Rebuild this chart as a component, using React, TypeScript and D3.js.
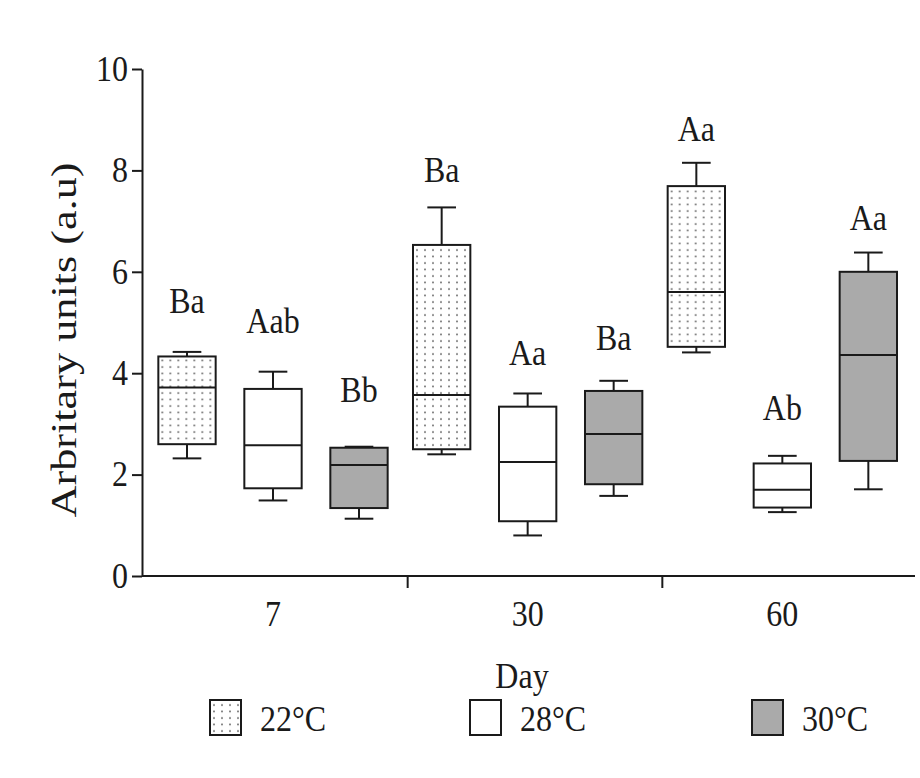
import React, { useEffect, useRef } from 'react';
import * as d3 from 'd3';

const days = ['7', '30', '60'];
const temps = ['22°C', '28°C', '30°C'];
const yTicks = [0, 2, 4, 6, 8, 10];

// one value per box, day by day, temperatures in legend order
const whiskerLow = [2.32, 1.49, 1.13, 2.4, 0.8, 1.58, 4.41, 1.26, 1.71];
const q1 = [2.6, 1.73, 1.34, 2.5, 1.08, 1.81, 4.52, 1.35, 2.27];
const medians = [3.72, 2.58, 2.19, 3.57, 2.25, 2.8, 5.6, 1.7, 4.36];
const q3 = [4.33, 3.69, 2.53, 6.53, 3.34, 3.65, 7.69, 2.22, 6.0];
const whiskerHigh = [4.42, 4.03, 2.55, 7.27, 3.6, 3.85, 8.15, 2.37, 6.38];
const letters = ['Ba', 'Aab', 'Bb', 'Ba', 'Aa', 'Ba', 'Aa', 'Ab', 'Aa'];
const letterAt = [5.19, 4.79, 3.43, 7.77, 4.16, 4.46, 8.58, 3.08, 6.82];

const App: React.FC = () => {
  const svgRef = useRef<SVGSVGElement | null>(null);

  useEffect(() => {
    if (!svgRef.current) return;

    const width = 920;
    const height = 778;
    const font = '"Liberation Serif", "Times New Roman", serif';
    const ink = '#1a1a1a';
    const fontSize = 32;
    const stretch = 'scale(1,1.1)'; // the scanned figure is a bit taller than wide

    const svg = d3.select(svgRef.current)
      .attr('width', width)
      .attr('height', height)
      .attr('viewBox', `0 0 ${width} ${height}`);

    svg.selectAll('*').remove();

    // scales
    const y = d3.scaleLinear().domain([0, 10]).range([576, 69]);
    const x = d3.scaleBand().domain(days).range([153, 917]);
    const inner = d3.scaleBand()
      .domain(temps)
      .range([-9, 249])
      .paddingInner(1 / 3)
      .paddingOuter(1 / 6);
    const bw = inner.bandwidth();

    // text placed at (tx, ty) baseline, stretched vertically
    const label = (sel: d3.Selection<any, any, any, any>, tx: any, ty: any, anchor = 'middle') =>
      sel.append('g')
        .attr('transform', (d: any) => `translate(${typeof tx === 'function' ? tx(d) : tx},${typeof ty === 'function' ? ty(d) : ty}) ${stretch}`)
        .append('text')
        .attr('text-anchor', anchor)
        .attr('font-family', font)
        .attr('font-size', fontSize)
        .attr('fill', ink);

    // dotted fill for 22°C
    const pat = svg.append('defs').append('pattern')
      .attr('id', 'dots')
      .attr('patternUnits', 'userSpaceOnUse')
      .attr('width', 8)
      .attr('height', 6.5);
    pat.append('rect').attr('width', 8).attr('height', 6.5).attr('fill', '#fff');
    pat.append('circle').attr('cx', 4).attr('cy', 3).attr('r', 0.9).attr('fill', '#555');

    const fills: Record<string, string> = {
      '22°C': 'url(#dots)',
      '28°C': '#ffffff',
      '30°C': '#aaaaaa',
    };

    // y axis
    const yAxis = svg.append('g')
      .attr('transform', 'translate(142,0)')
      .call(d3.axisLeft(y).tickValues(yTicks).tickSize(10).tickSizeOuter(0).tickPadding(4).tickFormat(d3.format('d')));
    yAxis.selectAll('path, line').attr('stroke', ink).attr('stroke-width', 2);
    yAxis.selectAll('text')
      .attr('fill', ink)
      .attr('font-family', font)
      .attr('font-size', fontSize)
      .attr('transform', stretch);

    svg.append('text')
      .attr('transform', 'translate(76,340) rotate(-90) scale(1,1.1)')
      .attr('text-anchor', 'middle')
      .attr('font-family', font)
      .attr('font-size', 32)
      .attr('fill', ink)
      .attr('textLength', 355)
      .attr('lengthAdjust', 'spacingAndGlyphs')
      .text('Arbritary units (a.u)');

    // x axis: line, ticks between groups, labels under the middle box
    svg.append('line')
      .attr('x1', 142).attr('x2', 915)
      .attr('y1', y(0)).attr('y2', y(0))
      .attr('stroke', ink).attr('stroke-width', 2);

    svg.selectAll('line.xtick')
      .data(days.slice(1))
      .join('line')
      .attr('class', 'xtick')
      .attr('x1', d => x(d)!).attr('x2', d => x(d)!)
      .attr('y1', y(0)).attr('y2', y(0) + 12)
      .attr('stroke', ink).attr('stroke-width', 2);

    const xl = svg.selectAll('g.xlab')
      .data(days)
      .join('g')
      .attr('class', 'xlab');
    label(xl, (d: string) => x(d)! + inner('28°C')! + bw / 2, 626).text(d => d);

    label(svg, 522, 688).text('Day');

    // boxes
    const boxes = d3.cross(days, temps).map(([day, temp], i) => ({
      day, temp,
      lo: whiskerLow[i], q1: q1[i], med: medians[i], q3: q3[i], hi: whiskerHigh[i],
      letter: letters[i], letterAt: letterAt[i],
    }));

    const g = svg.selectAll('g.box')
      .data(boxes)
      .join('g')
      .attr('class', 'box')
      .attr('transform', d => `translate(${x(d.day)! + inner(d.temp)!},0)`);

    // whiskers
    g.append('line')
      .attr('x1', bw / 2).attr('x2', bw / 2)
      .attr('y1', d => y(d.hi)).attr('y2', d => y(d.lo))
      .attr('stroke', ink).attr('stroke-width', 2);
    g.append('line')
      .attr('x1', bw / 4).attr('x2', bw * 3 / 4)
      .attr('y1', d => y(d.hi)).attr('y2', d => y(d.hi))
      .attr('stroke', ink).attr('stroke-width', 2);
    g.append('line')
      .attr('x1', bw / 4).attr('x2', bw * 3 / 4)
      .attr('y1', d => y(d.lo)).attr('y2', d => y(d.lo))
      .attr('stroke', ink).attr('stroke-width', 2);

    g.append('rect')
      .attr('x', 0)
      .attr('width', bw)
      .attr('y', d => y(d.q3))
      .attr('height', d => y(d.q1) - y(d.q3))
      .attr('fill', d => fills[d.temp])
      .attr('stroke', ink)
      .attr('stroke-width', 2);

    g.append('line')
      .attr('x1', 0).attr('x2', bw)
      .attr('y1', d => y(d.med)).attr('y2', d => y(d.med))
      .attr('stroke', ink).attr('stroke-width', 2);

    label(g, bw / 2, (d: any) => y(d.letterAt)).text((d: any) => d.letter);

    // legend
    const lx = d3.scaleOrdinal<string, number>().domain(temps).range([210, 470, 752]);
    const items = svg.selectAll('g.legend')
      .data(temps)
      .join('g')
      .attr('class', 'legend')
      .attr('transform', d => `translate(${lx(d)},0)`);
    items.append('rect')
      .attr('x', 0).attr('y', 700)
      .attr('width', 31).attr('height', 35)
      .attr('fill', d => fills[d])
      .attr('stroke', ink)
      .attr('stroke-width', 2);
    label(items, 50, 731, 'start').text((d: string) => d);
  }, []);

  return (
    <div style={{ position: 'absolute', left: 0, top: 0, background: '#fff' }}>
      <svg ref={svgRef} style={{ display: 'block' }}></svg>
    </div>
  );
};

export default App;
